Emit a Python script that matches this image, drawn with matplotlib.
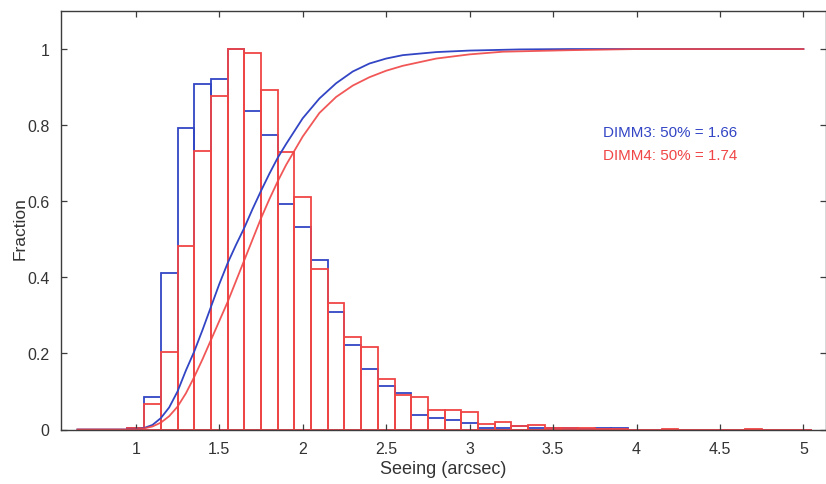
import matplotlib
matplotlib.use("Agg")
import matplotlib.pyplot as plt
from matplotlib.transforms import IdentityTransform, blended_transform_factory

plt.rcParams['font.family'] = ['Liberation Sans', 'DejaVu Sans']

# Histogram bin centres (arcsec) and normalised counts
bin_centers = [0.7, 0.8, 0.9, 1.0, 1.1, 1.2, 1.3, 1.4, 1.5, 1.6, 1.7, 1.8, 1.9,
               2.0, 2.1, 2.2, 2.3, 2.4, 2.5, 2.6, 2.7, 2.8, 2.9, 3.0, 3.1, 3.2,
               3.3, 3.4, 3.5, 3.6, 3.7, 3.8, 3.9, 4.0, 4.1, 4.2, 4.3, 4.4, 4.5,
               4.6, 4.7, 4.8, 4.9, 5.0]
dimm3_hist = [0, 0, 0, 0.005, 0.085, 0.412, 0.793, 0.907, 0.922, 1.0, 0.838,
              0.775, 0.594, 0.532, 0.445, 0.310, 0.223, 0.160, 0.114, 0.096,
              0.038, 0.030, 0.026, 0.017, 0.005, 0.003, 0.009, 0.005, 0.003,
              0.004, 0.002, 0.003, 0.003, 0, 0, 0, 0, 0, 0, 0, 0, 0, 0, 0]
dimm4_hist = [0, 0, 0, 0.004, 0.068, 0.203, 0.482, 0.733, 0.877, 1.0, 0.990,
              0.893, 0.730, 0.611, 0.423, 0.333, 0.243, 0.217, 0.132, 0.090,
              0.086, 0.051, 0.051, 0.045, 0.014, 0.020, 0.009, 0.011, 0.003,
              0.003, 0.004, 0.002, 0.002, 0, 0, 0.002, 0, 0, 0, 0, 0.002, 0, 0, 0]

# Cumulative distributions
dimm3_cdf_x = [0.65, 1.00, 1.05, 1.10, 1.15, 1.20, 1.25, 1.30, 1.35, 1.40, 1.45,
               1.50, 1.55, 1.60, 1.65, 1.70, 1.75, 1.80, 1.85, 1.90, 2.00, 2.10,
               2.20, 2.30, 2.40, 2.50, 2.60, 2.80, 3.00, 3.30, 3.60, 5.00]
dimm3_cdf_y = [0.0, 0.0, 0.004, 0.012, 0.030, 0.058, 0.100, 0.155, 0.205, 0.262,
               0.322, 0.382, 0.437, 0.485, 0.530, 0.580, 0.627, 0.672, 0.714,
               0.750, 0.818, 0.870, 0.910, 0.941, 0.962, 0.975, 0.984, 0.992,
               0.996, 0.999, 1.0, 1.0]
dimm4_cdf_x = [0.65, 1.00, 1.05, 1.10, 1.15, 1.20, 1.25, 1.30, 1.35, 1.40, 1.45,
               1.50, 1.55, 1.60, 1.65, 1.70, 1.75, 1.80, 1.85, 1.90, 2.00, 2.10,
               2.20, 2.30, 2.40, 2.50, 2.60, 2.80, 3.00, 3.20, 3.60, 4.00, 5.00]
dimm4_cdf_y = [0.0, 0.0, 0.003, 0.008, 0.018, 0.035, 0.060, 0.095, 0.138, 0.185,
               0.235, 0.285, 0.335, 0.390, 0.445, 0.500, 0.555, 0.605, 0.652,
               0.695, 0.770, 0.832, 0.874, 0.904, 0.926, 0.943, 0.956, 0.975,
               0.986, 0.993, 0.997, 1.0, 1.0]

dimm3_median = 1.66
dimm4_median = 1.74

BLUE = '#3245c4'
RED = '#f04545'
GREY = '#3c3c3c'
TEXT = '#333333'

W, H = 826, 485
fig = plt.figure(figsize=(W / 100, H / 100), dpi=100)
ax = fig.add_axes([60.7 / W, 54.5 / H, (825.5 - 60.7) / W, (473 - 54.5) / H])

ax.bar(bin_centers, dimm3_hist, width=0.1, facecolor='none', edgecolor=BLUE,
       linewidth=1.3)
ax.bar(bin_centers, dimm4_hist, width=0.1, facecolor='none', edgecolor=RED,
       linewidth=1.3)
ax.plot(dimm3_cdf_x, dimm3_cdf_y, color=BLUE, linewidth=1.3)
ax.plot(dimm4_cdf_x, dimm4_cdf_y, color=RED, linewidth=1.3, alpha=0.9)

# Median annotations, placed in pixel coordinates
ax.text(603, H - 133, f'DIMM3: 50% = {dimm3_median:.2f}',
        transform=IdentityTransform(), color=BLUE, fontsize=10.9, va='center')
ax.text(603, H - 156, f'DIMM4: 50% = {dimm4_median:.2f}',
        transform=IdentityTransform(), color=RED, fontsize=10.9, va='center')

ax.set_xlim(0.55, 0.55 + (825.5 - 60.7) / 166.9)
ax.set_ylim(0, 1.1)
ax.set_xticks([1, 1.5, 2, 2.5, 3, 3.5, 4, 4.5, 5])
ax.set_xticklabels(['1', '1.5', '2', '2.5', '3', '3.5', '4', '4.5', '5'])
ax.set_yticks([0, 0.2, 0.4, 0.6, 0.8, 1])
ax.set_yticklabels(['0', '0.2', '0.4', '0.6', '0.8', '1'])
ax.tick_params(direction='in', top=True, right=True, length=4, width=0.9,
               colors=GREY, labelsize=11.5, labelcolor=TEXT)
ax.tick_params(axis='x', pad=8)
ax.tick_params(axis='y', pad=8)
for s in ax.spines.values():
    s.set_color(GREY)
    s.set_linewidth(1.0)

ax.set_xlabel('Seeing (arcsec)', fontsize=13, color=TEXT, labelpad=3)
ax.set_ylabel('Fraction', fontsize=12.5, color=TEXT)
ax.yaxis.set_label_coords(
    28 / W, 0.483, transform=blended_transform_factory(fig.transFigure, ax.transAxes))

fig.savefig('out.png', dpi=100)
